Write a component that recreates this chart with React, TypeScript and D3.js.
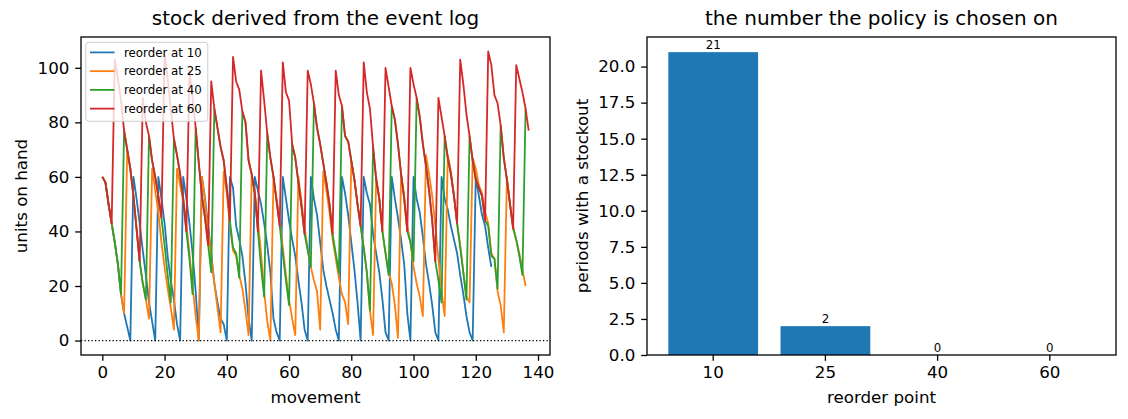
import React, { useEffect, useRef } from "react";
import * as d3 from "d3";

// stock on hand per movement, one list per reorder point
const reorder10 = [
  60, 58, 50, 43, 36, 28, 17, 10, 5, 0, 60, 52, 43, 33, 24, 14, 7, 0, 60, 52,
  43, 31, 22, 15, 6, 0, 60, 52, 43, 32, 18, 0, 60, 52, 42, 32, 21, 14, 8, 6,
  0, 60, 56, 42, 37, 31, 21, 8, 0, 60, 55, 50, 43, 35, 25, 8, 3, 0, 60, 52,
  44, 37, 31, 22, 14, 4, 0, 60, 52, 46, 36, 26, 20, 15, 10, 4, 0, 60, 54, 46,
  36, 26, 14, 0, 60, 54, 50, 39, 32, 25, 15, 3, 0, 60, 52, 45, 37, 28, 10, 0,
  60, 52, 47, 38, 28, 21, 13, 3, 0, 60, 52, 48, 42, 37, 32, 24, 17, 9, 3, 0,
  60, 53, 46, 42, 34, 27,
];
const reorder25 = [
  60, 58, 50, 43, 36, 28, 17, 10, 70, 63, 53, 41, 29, 21, 15, 8, 63, 55, 47, 36,
  27, 19, 12, 4, 63, 57, 51, 43, 32, 20, 9, 0, 60, 51, 40, 31, 21, 12, 3, 62,
  54, 42, 33, 31, 24, 19, 11, 2, 61, 54, 44, 32, 18, 7, 0, 60, 52, 44, 34, 24,
  15, 8, 2, 60, 51, 41, 34, 27, 22, 18, 4, 62, 55, 47, 37, 30, 23, 17, 14, 6,
  66, 59, 50, 42, 34, 25, 11, 2, 60, 52, 40, 32, 25, 21, 13, 1, 61, 53, 42, 36,
  27, 21, 16, 9, 68, 61, 53, 42, 30, 18, 9, 68, 62, 53, 43, 35, 25, 16, 14, 67,
  63, 57, 54, 47, 43, 32, 30, 18, 13, 3, 60, 50, 42, 37, 32, 26, 20,
];
const reorder40 = [
  60, 58, 50, 43, 36, 28, 17, 77, 70, 63, 53, 41, 29, 21, 15, 75, 66, 60, 53, 45,
  35, 24, 14, 74, 68, 61, 52, 40, 30, 17, 78, 65, 53, 45, 35, 25, 85, 78, 71, 66,
  56, 44, 34, 32, 23, 84, 80, 66, 61, 54, 40, 27, 16, 76, 67, 60, 51, 42, 32, 22,
  13, 72, 67, 58, 49, 39, 33, 27, 87, 78, 72, 65, 58, 50, 39, 32, 25, 86, 75, 73,
  66, 59, 50, 42, 34, 25, 11, 71, 59, 52, 40, 32, 24, 86, 81, 72, 61, 52, 40, 36,
  29, 89, 82, 72, 64, 55, 44, 29, 22, 14, 75, 67, 61, 53, 43, 34, 25, 15, 75, 66,
  59, 56, 53, 44, 42, 31, 30, 19, 79, 67, 59, 50, 41, 37, 31, 24, 85,
];
const reorder60 = [
  60, 58, 50, 43, 103, 96, 88, 77, 70, 63, 53, 41, 29, 89, 80, 75, 66, 60, 53, 45,
  105, 96, 85, 74, 68, 61, 52, 40, 99, 89, 78, 65, 53, 45, 35, 95, 85, 78, 71, 66,
  56, 44, 104, 95, 92, 84, 80, 66, 61, 54, 40, 99, 88, 76, 67, 60, 51, 42, 102, 91,
  88, 72, 67, 58, 49, 39, 99, 94, 87, 78, 72, 65, 58, 50, 39, 99, 90, 86, 75, 73,
  66, 59, 50, 42, 102, 91, 85, 71, 59, 52, 40, 100, 93, 86, 81, 72, 61, 52, 40, 100,
  94, 89, 82, 72, 64, 55, 44, 29, 89, 82, 75, 67, 61, 53, 43, 103, 94, 83, 75, 66,
  59, 56, 53, 44, 106, 101, 90, 87, 79, 67, 59, 50, 41, 101, 96, 91, 85, 77,
];

const seriesLabels = ["reorder at 10", "reorder at 25", "reorder at 40", "reorder at 60"];
const seriesColors = ["#1f77b4", "#ff7f0e", "#2ca02c", "#d62728"];

const movementTicks = [0, 20, 40, 60, 80, 100, 120, 140];
const stockTicks = [0, 20, 40, 60, 80, 100];

const reorderPoints = ["10", "25", "40", "60"];
const stockoutPeriods = [21, 2, 0, 0];
const periodTicks = [0, 2.5, 5, 7.5, 10, 12.5, 15, 17.5, 20];

const W = 1128;
const H = 419;
const FONT = "DejaVu Sans, Verdana, sans-serif";
const leftBox = { x0: 81, x1: 550, y0: 37, y1: 355 };
const rightBox = { x0: 647, x1: 1116, y0: 37, y1: 355 };
const TICK = 5.8;

function styleAxis(g: d3.Selection<SVGGElement, unknown, null, undefined>) {
  g.select(".domain").remove();
  g.selectAll(".tick line").attr("stroke", "#000").attr("stroke-width", 1.3);
  g.selectAll(".tick text")
    .attr("fill", "#000")
    .attr("font-size", 16.7)
    .attr("font-family", FONT);
}

const App: React.FC = () => {
  const svgRef = useRef<SVGSVGElement | null>(null);

  useEffect(() => {
    if (!svgRef.current) return;
    const svg = d3.select(svgRef.current);
    svg.selectAll("*").remove();

    // ---------- left: stock lines ----------
    const series = [reorder10, reorder25, reorder40, reorder60];
    const n = d3.max(series, (s) => s.length - 1) || 0;
    const allValues = series.flat();
    const vMin = d3.min(allValues) || 0;
    const vMax = d3.max(allValues) || 0;
    const vPad = (vMax - vMin) * 0.05;

    const x = d3
      .scaleLinear()
      .domain([-n * 0.05, n * 1.05])
      .range([leftBox.x0, leftBox.x1]);
    const y = d3
      .scaleLinear()
      .domain([vMin - vPad, vMax + vPad])
      .range([leftBox.y1, leftBox.y0]);

    const line = d3
      .line<number>()
      .x((d, i) => x(i))
      .y((d) => y(d));

    const plot = svg.append("g");
    series.forEach((s, k) => {
      plot
        .append("path")
        .datum(s)
        .attr("d", line)
        .attr("fill", "none")
        .attr("stroke", seriesColors[k])
        .attr("stroke-width", 1.8)
        .attr("stroke-linejoin", "round");
    });

    plot
      .append("line")
      .attr("x1", leftBox.x0)
      .attr("x2", leftBox.x1)
      .attr("y1", y(0))
      .attr("y2", y(0))
      .attr("stroke", "#000")
      .attr("stroke-width", 1.3)
      .attr("stroke-dasharray", "1.3,2.2");

    const xAxis = svg
      .append("g")
      .attr("transform", `translate(0, ${leftBox.y1})`)
      .call(d3.axisBottom(x).tickValues(movementTicks).tickSize(TICK).tickPadding(TICK));
    styleAxis(xAxis);
    const yAxis = svg
      .append("g")
      .attr("transform", `translate(${leftBox.x0}, 0)`)
      .call(d3.axisLeft(y).tickValues(stockTicks).tickSize(TICK).tickPadding(TICK));
    styleAxis(yAxis);

    // legend
    const lfs = 11.8;
    const legend = svg.append("g");
    legend
      .append("rect")
      .attr("x", 85.8)
      .attr("y", 42.3)
      .attr("width", 122)
      .attr("height", 79)
      .attr("rx", 3)
      .attr("fill", "#fff")
      .attr("fill-opacity", 0.8)
      .attr("stroke", "#cccccc")
      .attr("stroke-width", 1);
    seriesLabels.forEach((label, k) => {
      const cy = 52.4 + k * 18.75;
      legend
        .append("line")
        .attr("x1", 90)
        .attr("x2", 114.5)
        .attr("y1", cy)
        .attr("y2", cy)
        .attr("stroke", seriesColors[k])
        .attr("stroke-width", 1.8);
      legend
        .append("text")
        .attr("x", 124)
        .attr("y", cy + 4.2)
        .attr("font-size", lfs)
        .attr("font-family", FONT)
        .text(label);
    });

    svg
      .append("rect")
      .attr("x", leftBox.x0)
      .attr("y", leftBox.y0)
      .attr("width", leftBox.x1 - leftBox.x0)
      .attr("height", leftBox.y1 - leftBox.y0)
      .attr("fill", "none")
      .attr("stroke", "#000")
      .attr("stroke-width", 1.3);

    // ---------- right: stockout bars ----------
    const xb = d3
      .scaleBand<string>()
      .domain(reorderPoints)
      .range([rightBox.x0, rightBox.x1])
      .paddingInner(0.2)
      .paddingOuter(0.19);
    const yb = d3
      .scaleLinear()
      .domain([0, (d3.max(stockoutPeriods) || 0) * 1.05])
      .range([rightBox.y1, rightBox.y0]);

    svg
      .append("g")
      .selectAll("rect")
      .data(stockoutPeriods)
      .join("rect")
      .attr("x", (d, i) => xb(reorderPoints[i]) || 0)
      .attr("y", (d) => yb(d))
      .attr("width", xb.bandwidth())
      .attr("height", (d) => yb(0) - yb(d))
      .attr("fill", "#1f77b4");

    svg
      .append("g")
      .selectAll("text")
      .data(stockoutPeriods)
      .join("text")
      .attr("x", (d, i) => (xb(reorderPoints[i]) || 0) + xb.bandwidth() / 2)
      .attr("y", (d) => yb(d) - 2.7)
      .attr("text-anchor", "middle")
      .attr("font-size", lfs)
      .attr("font-family", FONT)
      .text((d) => String(d));

    const xbAxis = svg
      .append("g")
      .attr("transform", `translate(0, ${rightBox.y1})`)
      .call(d3.axisBottom(xb).tickSize(TICK).tickPadding(TICK));
    styleAxis(xbAxis);
    const ybAxis = svg
      .append("g")
      .attr("transform", `translate(${rightBox.x0}, 0)`)
      .call(
        d3
          .axisLeft(yb)
          .tickValues(periodTicks)
          .tickFormat(d3.format(".1f"))
          .tickSize(TICK)
          .tickPadding(TICK)
      );
    styleAxis(ybAxis);

    svg
      .append("rect")
      .attr("x", rightBox.x0)
      .attr("y", rightBox.y0)
      .attr("width", rightBox.x1 - rightBox.x0)
      .attr("height", rightBox.y1 - rightBox.y0)
      .attr("fill", "none")
      .attr("stroke", "#000")
      .attr("stroke-width", 1.3);

    // ---------- titles and labels ----------
    const texts = [
      { x: (leftBox.x0 + leftBox.x1) / 2, y: 25, s: 20, t: "stock derived from the event log" },
      { x: (rightBox.x0 + rightBox.x1) / 2, y: 25, s: 20, t: "the number the policy is chosen on" },
      { x: (leftBox.x0 + leftBox.x1) / 2, y: 403, s: 16.7, t: "movement" },
      { x: (rightBox.x0 + rightBox.x1) / 2, y: 403, s: 16.7, t: "reorder point" },
    ];
    texts.forEach((d) => {
      svg
        .append("text")
        .attr("x", d.x)
        .attr("y", d.y)
        .attr("text-anchor", "middle")
        .attr("font-size", d.s)
        .attr("font-family", FONT)
        .text(d.t);
    });
    const ylabels = [
      { x: 27, t: "units on hand" },
      { x: 588, t: "periods with a stockout" },
    ];
    ylabels.forEach((d) => {
      svg
        .append("text")
        .attr("transform", `translate(${d.x}, ${(leftBox.y0 + leftBox.y1) / 2}) rotate(-90)`)
        .attr("text-anchor", "middle")
        .attr("font-size", 16.7)
        .attr("font-family", FONT)
        .text(d.t);
    });
  }, []);

  return (
    <svg
      ref={svgRef}
      width={W}
      height={H}
      style={{ position: "absolute", left: 0, top: 0, background: "#fff" }}
    />
  );
};

export default App;
